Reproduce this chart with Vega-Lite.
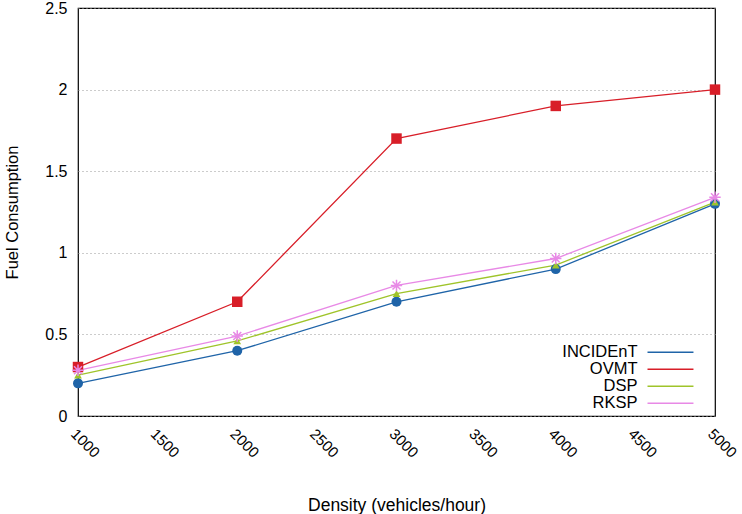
{
  "$schema": "https://vega.github.io/schema/vega-lite/v6.json",
  "width": 637,
  "height": 408,
  "autosize": "none",
  "padding": {"left": 78, "top": 8, "right": 27, "bottom": 98},
  "background": "white",
  "config": {
    "font": "Liberation Sans",
    "view": {"stroke": "black", "strokeWidth": 1.2}
  },
  "data": {
    "values": [
      {"density": 1000, "series": "INCIDEnT", "value": 0.2},
      {"density": 2000, "series": "INCIDEnT", "value": 0.4},
      {"density": 3000, "series": "INCIDEnT", "value": 0.7},
      {"density": 4000, "series": "INCIDEnT", "value": 0.9},
      {"density": 5000, "series": "INCIDEnT", "value": 1.3},
      {"density": 1000, "series": "OVMT", "value": 0.3},
      {"density": 2000, "series": "OVMT", "value": 0.7},
      {"density": 3000, "series": "OVMT", "value": 1.7},
      {"density": 4000, "series": "OVMT", "value": 1.9},
      {"density": 5000, "series": "OVMT", "value": 2.0},
      {"density": 1000, "series": "DSP", "value": 0.25},
      {"density": 2000, "series": "DSP", "value": 0.46},
      {"density": 3000, "series": "DSP", "value": 0.75},
      {"density": 4000, "series": "DSP", "value": 0.925},
      {"density": 5000, "series": "DSP", "value": 1.31},
      {"density": 1000, "series": "RKSP", "value": 0.28},
      {"density": 2000, "series": "RKSP", "value": 0.49},
      {"density": 3000, "series": "RKSP", "value": 0.8},
      {"density": 4000, "series": "RKSP", "value": 0.965},
      {"density": 5000, "series": "RKSP", "value": 1.34}
    ]
  },
  "encoding": {
    "x": {
      "field": "density",
      "type": "quantitative",
      "title": "Density (vehicles/hour)",
      "scale": {"domain": [1000, 5000], "nice": false, "zero": false},
      "axis": {
        "values": [1000, 1500, 2000, 2500, 3000, 3500, 4000, 4500, 5000],
        "format": "d",
        "grid": false,
        "ticks": false,
        "domain": false,
        "labelAngle": 45,
        "labelAlign": "left",
        "labelBaseline": "top",
        "labelPadding": 10,
        "labelFontSize": 15,
        "labelColor": "black",
        "titleFontSize": 17.5,
        "titleFontWeight": "normal",
        "titleColor": "black",
        "titlePadding": 36
      }
    },
    "y": {
      "field": "value",
      "type": "quantitative",
      "title": "Fuel Consumption",
      "scale": {"domain": [0, 2.5], "nice": false},
      "axis": {
        "values": [0, 0.5, 1, 1.5, 2, 2.5],
        "format": "~g",
        "grid": true,
        "gridDash": [1, 3],
        "gridColor": "#999999",
        "gridWidth": 1,
        "ticks": false,
        "domain": false,
        "labelPadding": 11,
        "labelFontSize": 16,
        "labelColor": "black",
        "titleFontSize": 16.5,
        "titleFontWeight": "normal",
        "titleColor": "black",
        "titlePadding": 24
      }
    }
  },
  "layer": [
    {
      "mark": {"type": "line", "strokeWidth": 1.3},
      "encoding": {
        "color": {
          "field": "series",
          "type": "nominal",
          "scale": {
            "domain": ["INCIDEnT", "OVMT", "DSP", "RKSP"],
            "range": ["#1f64a8", "#d81e28", "#9fc42a", "#e889e6"]
          },
          "legend": {
            "title": null,
            "orient": "none",
            "legendX": 567,
            "legendY": 336,
            "symbolType": "M-1,0H7",
            "symbolSize": 132,
            "symbolStrokeWidth": 1.3,
            "symbolFillColor": "transparent",
            "labelAlign": "right",
            "labelOffset": -24,
            "labelFontSize": 16.5,
            "labelColor": "black",
            "rowPadding": 0
          }
        }
      }
    },
    {
      "transform": [{"filter": "datum.series === 'INCIDEnT'"}],
      "mark": {"type": "point", "shape": "circle", "filled": true, "opacity": 1, "color": "#1f64a8", "size": 100}
    },
    {
      "transform": [{"filter": "datum.series === 'OVMT'"}],
      "mark": {"type": "point", "shape": "square", "filled": true, "opacity": 1, "color": "#d81e28", "size": 110}
    },
    {
      "transform": [{"filter": "datum.series === 'DSP'"}],
      "mark": {"type": "point", "shape": "triangle-up", "filled": true, "opacity": 1, "color": "#9fc42a", "size": 60}
    },
    {
      "transform": [{"filter": "datum.series === 'RKSP'"}],
      "mark": {"type": "point", "shape": "M-1,0L1,0M0,-1L0,1M-0.7,-0.7L0.7,0.7M-0.7,0.7L0.7,-0.7", "filled": false, "opacity": 1, "color": "#e889e6", "size": 130, "strokeWidth": 1.5}
    }
  ]
}
